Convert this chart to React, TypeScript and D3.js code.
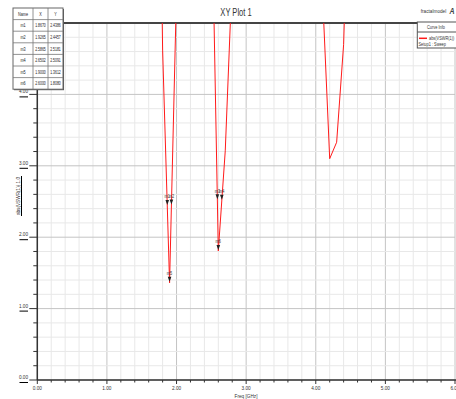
import React from "react";
import * as d3 from "d3";

const freqGHz = [1.6, 1.7, 1.8, 1.9, 2.0, 2.1, 2.2, 2.3, 2.4, 2.5, 2.6, 2.7, 2.8, 2.9, 3.0, 3.1, 3.2, 3.3, 3.4, 3.5, 3.6, 3.7, 3.8, 3.9, 4.0, 4.1, 4.2, 4.3, 4.4, 4.5, 4.6];
const vswr = [14.2, 11.8, 4.62, 1.3612, 5.45, 10.3, 13.5, 14.8, 12.6, 7.07, 1.808, 3.21, 5.67, 8.9, 11.2, 13.0, 14.1, 14.6, 14.3, 13.6, 12.4, 11.0, 9.6, 8.1, 7.2, 5.34, 3.1, 3.33, 4.7, 7.9, 10.5];

const markerNames = ["m1", "m2", "m3", "m4", "m5", "m6"];
const markerX = [1.867, 1.9265, 2.5865, 2.6502, 1.9, 2.6];
const markerY = [2.4386, 2.4457, 2.5181, 2.5091, 1.3612, 1.808];

const xTicks = [0, 1, 2, 3, 4, 5, 6];
const yTicks = [0, 1, 2, 3, 4, 5];

const FONT = "'Liberation Sans', Arial, sans-serif";

function NT(props: { x: number; y: number; size: number; anchor?: string; sx?: number; fill?: string; children: any }) {
  const { x, y, size, anchor = "start", sx = 0.78, fill = "#333", children } = props;
  return (
    <text transform={`translate(${x},${y}) scale(${sx},1)`} fontSize={size} textAnchor={anchor as any} fill={fill}>
      {children}
    </text>
  );
}

export default function App() {
  const W = 456, H = 399;
  const L = 37.3, R = 455, T = 23, B = 380;
  const x = d3.scaleLinear().domain([0, 6]).range([L, R]);
  const y = d3.scaleLinear().domain([0, 5]).range([B, T]);

  const minorX = d3.range(0, 30.5, 1).map((i) => i * 0.2);
  const minorY = d3.range(0, 25.5, 1).map((i) => i * 0.2);

  const pts: [number, number][] = freqGHz.map((f, i) => [f, vswr[i]]);
  const line = d3.line<[number, number]>().x((d) => x(d[0])).y((d) => y(d[1]));

  const fmt = d3.format(".2f");
  const fmt4 = d3.format(".4f");

  const tX = [13, 33, 48, 63];
  const tY0 = 8, rowH = 11.6;

  return (
    <svg width={W} height={H} style={{ position: "absolute", left: 0, top: 0 }} fontFamily={FONT}>
      <rect x={0} y={0} width={W} height={H} fill="#fff" />
      <defs>
        <clipPath id="plotclip">
          <rect x={L} y={T} width={R - L} height={B - T} />
        </clipPath>
      </defs>
      {minorX.map((v, i) => (
        <line key={"gx" + i} x1={x(v)} x2={x(v)} y1={T} y2={B} stroke={i % 5 === 0 ? "#c4c4c4" : "#e8e8e8"} strokeWidth={1} />
      ))}
      {minorY.map((v, i) => (
        <line key={"gy" + i} x1={L} x2={R} y1={y(v)} y2={y(v)} stroke={i % 5 === 0 ? "#c4c4c4" : "#e8e8e8"} strokeWidth={1} />
      ))}
      <line x1={L} x2={R + 1} y1={T} y2={T} stroke="#444" strokeWidth={2} />
      <line x1={L} x2={L} y1={T} y2={B} stroke="#333" strokeWidth={1.5} />
      <line x1={L} x2={R + 1} y1={B} y2={B} stroke="#333" strokeWidth={1.5} />
      {minorY.map((v, i) => (
        <line key={"ty" + i} x1={i % 5 === 0 ? L - 8 : L - 4} x2={L} y1={y(v)} y2={y(v)} stroke="#333" strokeWidth={1} />
      ))}
      {yTicks.map((v) => (
        <g key={"yl" + v}>
          <NT x={28} y={y(v) - 1} size={6} anchor="end">{fmt(v)}</NT>
          <line x1={19.5} x2={28} y1={y(v) + 2.5} y2={y(v) + 2.5} stroke="#000" strokeWidth={1} />
        </g>
      ))}
      {minorX.map((v, i) => (
        <line key={"tx" + i} x1={x(v)} x2={x(v)} y1={B} y2={i % 5 === 0 ? B + 4 : B + 2.5} stroke="#333" strokeWidth={1} />
      ))}
      {xTicks.map((v) => (
        <NT key={"xl" + v} x={x(v)} y={390} size={6} anchor="middle">{fmt(v)}</NT>
      ))}
      <NT x={246} y={398} size={6} anchor="middle">Freq [GHz]</NT>
      <g transform="translate(19.5,196) rotate(-90)">
        <NT x={0} y={0} size={6} anchor="middle">abs(VSWR(1))  1.0</NT>
        <line x1={-20} x2={20} y1={2} y2={2} stroke="#000" strokeWidth={1} />
      </g>
      <NT x={236} y={16} size={10.5} anchor="middle" sx={0.72}>XY Plot 1</NT>
      <path d={line(pts) || ""} fill="none" stroke="#ff1a1a" strokeWidth={1} clipPath="url(#plotclip)" />
      {markerNames.map((n, i) => {
        const px = x(markerX[i]);
        const py = y(markerY[i]);
        return (
          <g key={n}>
            <path d={`M${px - 1.8},${py - 6} L${px + 1.8},${py - 6} L${px},${py - 1} Z`} fill="#222" />
            <NT x={px} y={py - 7.5} size={5} anchor="middle">{n}</NT>
          </g>
        );
      })}
      <rect x={tX[0] + 1} y={tY0 + 1} width={tX[3] - tX[0]} height={rowH * 7} fill="#555" />
      <rect x={tX[0]} y={tY0} width={tX[3] - tX[0]} height={rowH * 7} fill="#fff" stroke="#666" strokeWidth={1} />
      {d3.range(1, 7).map((r) => (
        <line key={"tr" + r} x1={tX[0]} x2={tX[3]} y1={tY0 + r * rowH} y2={tY0 + r * rowH} stroke="#777" strokeWidth={0.8} />
      ))}
      {[1, 2].map((c) => (
        <line key={"tc" + c} x1={tX[c]} x2={tX[c]} y1={tY0} y2={tY0 + rowH * 7} stroke="#777" strokeWidth={0.8} />
      ))}
      {["Name", "X", "Y"].map((h, c) => (
        <NT key={"th" + c} x={(tX[c] + tX[c + 1]) / 2} y={tY0 + rowH / 2 + 2} size={4.8} anchor="middle" fill="#222">{h}</NT>
      ))}
      {markerNames.map((n, r) => (
        <g key={"row" + n}>
          <NT x={(tX[0] + tX[1]) / 2} y={tY0 + (r + 1.5) * rowH + 2} size={4.8} anchor="middle" fill="#222">{n}</NT>
          <NT x={(tX[1] + tX[2]) / 2} y={tY0 + (r + 1.5) * rowH + 2} size={4.8} anchor="middle" fill="#222" sx={0.72}>{fmt4(markerX[r])}</NT>
          <NT x={(tX[2] + tX[3]) / 2} y={tY0 + (r + 1.5) * rowH + 2} size={4.8} anchor="middle" fill="#222" sx={0.72}>{fmt4(markerY[r])}</NT>
        </g>
      ))}
      <NT x={433.5} y={13} size={6} anchor="middle">fractalmodel</NT>
      <NT x={452} y={14} size={9} anchor="middle" fill="#444"><tspan fontStyle="italic" fontWeight="bold">A</tspan></NT>
      <rect x={417.3} y={22} width={45} height={26} fill="#fff" stroke="#555" strokeWidth={1} />
      <NT x={436} y={29} size={5} anchor="middle">Curve Info</NT>
      <line x1={417.3} x2={462} y1={32} y2={32} stroke="#555" strokeWidth={1} />
      <line x1={419} x2={427} y1={38.3} y2={38.3} stroke="#ff1a1a" strokeWidth={1.5} />
      <NT x={429} y={40} size={5}>abs(VSWR(1))</NT>
      <NT x={418.5} y={45.5} size={5}>Setup1 : Sweep</NT>
    </svg>
  );
}
